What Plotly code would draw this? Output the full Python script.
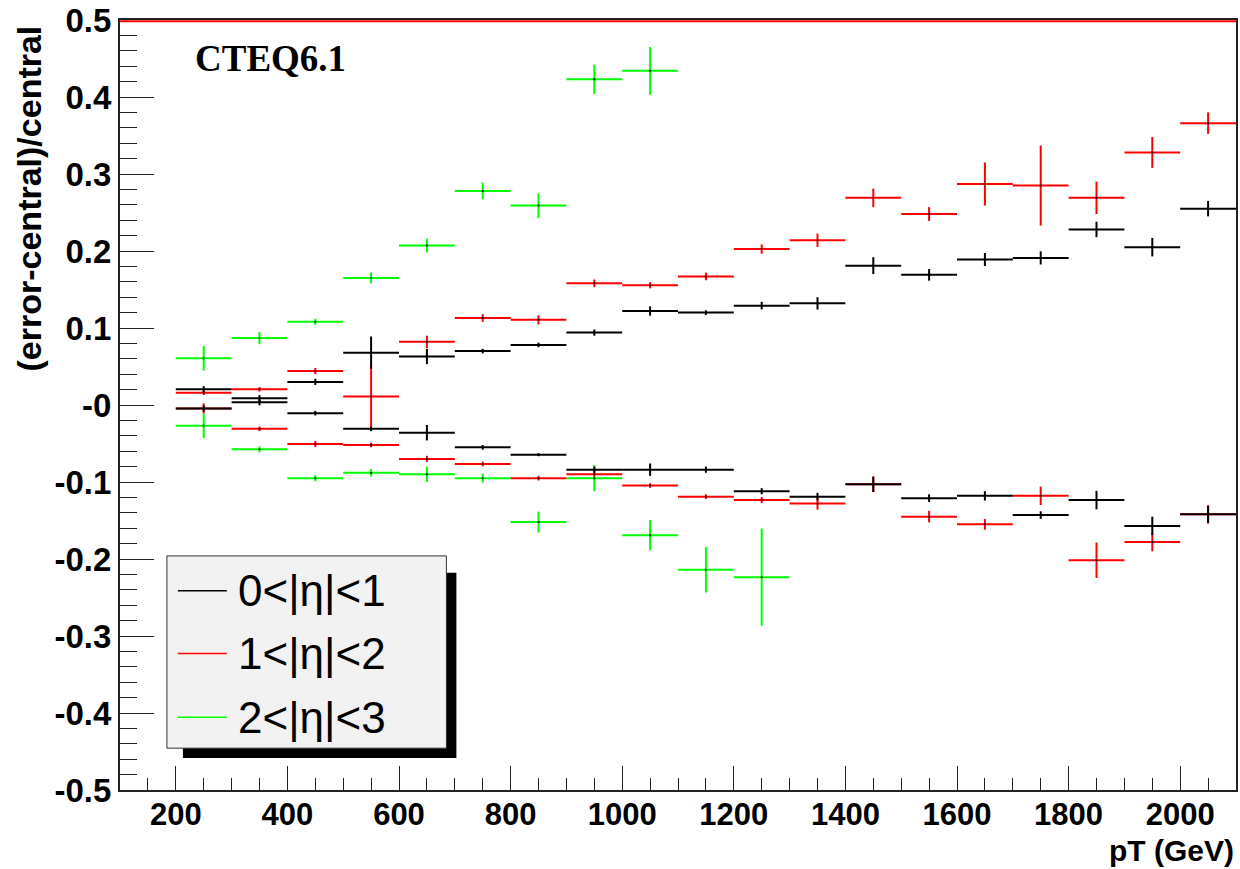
import plotly.graph_objects as go

# ---------------- data ----------------
pt_centers = [250, 350, 450, 550, 650, 750, 850, 950, 1050, 1150,
              1250, 1350, 1450, 1550, 1650, 1750, 1850, 1950, 2050]
bin_half_width = 50

black_up = [0.0205, 0.0088, 0.030, 0.068, 0.063, 0.070, 0.078, 0.094, 0.122, 0.120,
            0.129, 0.132, 0.181, 0.169, 0.189, 0.191, 0.228, 0.205, 0.255]
black_up_err = [0.004, 0.004, 0.004, 0.021, 0.010, 0.003, 0.003, 0.004, 0.006, 0.003,
                0.005, 0.008, 0.011, 0.0075, 0.0085, 0.0085, 0.010, 0.012, 0.010]
black_dn = [-0.0045, 0.0036, -0.0106, -0.031, -0.036, -0.055, -0.0645, -0.084, -0.084, -0.084,
            -0.112, -0.119, -0.103, -0.121, -0.118, -0.143, -0.1235, -0.157, -0.142]
black_dn_err = [0.004, 0.004, 0.003, 0.003, 0.010, 0.003, 0.002, 0.004, 0.008, 0.004,
                0.004, 0.005, 0.010, 0.005, 0.006, 0.005, 0.012, 0.012, 0.011]

red_up = [0.016, 0.0205, 0.044, 0.011, 0.082, 0.113, 0.1106, 0.158, 0.1555, 0.167,
          0.2025, 0.214, 0.269, 0.248, 0.287, 0.285, 0.269, 0.328, 0.366]
red_up_err = [0.003, 0.003, 0.004, 0.041, 0.008, 0.005, 0.006, 0.005, 0.004, 0.005,
              0.006, 0.0087, 0.012, 0.009, 0.028, 0.052, 0.021, 0.020, 0.014]
red_dn = [-0.0045, -0.031, -0.0507, -0.052, -0.070, -0.0766, -0.095, -0.090, -0.1046, -0.119,
          -0.1235, -0.128, -0.103, -0.145, -0.155, -0.118, -0.2016, -0.178, -0.142]
red_dn_err = [0.0065, 0.003, 0.004, 0.003, 0.004, 0.003, 0.003, 0.003, 0.003, 0.003,
              0.004, 0.008, 0.010, 0.0075, 0.007, 0.012, 0.023, 0.012, 0.012]

green_up_pt = [250, 350, 450, 550, 650, 750, 850, 950, 1050]
green_up = [0.0606, 0.087, 0.108, 0.165, 0.207, 0.278, 0.259, 0.423, 0.434]
green_up_err = [0.016, 0.008, 0.004, 0.007, 0.009, 0.011, 0.016, 0.019, 0.031]
green_dn_pt = [250, 350, 450, 550, 650, 750, 850, 950, 1050, 1150, 1250]
green_dn = [-0.027, -0.0576, -0.095, -0.088, -0.090, -0.095, -0.152, -0.095, -0.169, -0.214, -0.2236]
green_dn_err = [0.016, 0.004, 0.004, 0.005, 0.010, 0.006, 0.0136, 0.017, 0.0196, 0.0295, 0.063]

y_tick_vals = [0.5, 0.4, 0.3, 0.2, 0.1, 0.0, -0.1, -0.2, -0.3, -0.4, -0.5]
y_tick_text = ["0.5", "0.4", "0.3", "0.2", "0.1", "-0", "-0.1", "-0.2", "-0.3", "-0.4", "-0.5"]
x_tick_vals = [200, 400, 600, 800, 1000, 1200, 1400, 1600, 1800, 2000]

legend_labels = ["0<|η|<1", "1<|η|<2", "2<|η|<3"]
colors = ["#000000", "#ff0000", "#00ff00"]

# ---------------- figure ----------------
W, H = 1240, 869
ML, MR, MT, MB = 120, 2, 17, 79
PW, PH = W - ML - MR, H - MT - MB


def px2paper(px, py):
    return (px - ML) / PW, (H - MB - py) / PH


fig = go.Figure()


def add_series(x, y, err, color):
    fig.add_trace(go.Scatter(
        x=x, y=y, mode="markers",
        marker=dict(size=2, color="#000000"),
        error_x=dict(type="constant", value=bin_half_width, color=color, thickness=2, width=0),
        error_y=dict(type="data", array=err, visible=True, color=color, thickness=2, width=0),
        showlegend=False, hoverinfo="skip",
    ))


add_series(green_up_pt, green_up, green_up_err, colors[2])
add_series(green_dn_pt, green_dn, green_dn_err, colors[2])
add_series(pt_centers, red_up, red_up_err, colors[1])
add_series(pt_centers, red_dn, red_dn_err, colors[1])
add_series(pt_centers, black_up, black_up_err, colors[0])
add_series(pt_centers, black_dn, black_dn_err, colors[0])

shapes = []
# red line just below the top frame
shapes.append(dict(type="line", xref="x", yref="y", x0=100, x1=2100, y0=0.4984, y1=0.4984,
                   line=dict(color="#ff0000", width=2), layer="above"))

# legend: shadow, box, sample lines
sx0, sy0 = px2paper(183, 758)
sx1, sy1 = px2paper(457, 572)
shapes.append(dict(type="rect", xref="paper", yref="paper", x0=sx0, x1=sx1, y0=sy0, y1=sy1,
                   fillcolor="#000000", line=dict(width=0), layer="above"))
bx0, by0 = px2paper(167, 748)
bx1, by1 = px2paper(447, 555)
shapes.append(dict(type="rect", xref="paper", yref="paper", x0=bx0, x1=bx1, y0=by0, y1=by1,
                   fillcolor="#f2f2f2", line=dict(color="#333333", width=1), layer="above"))

annotations = []
row_y = [590, 653, 717]
for lab, col, ry in zip(legend_labels, colors, row_y):
    lx0, ly = px2paper(178, ry)
    lx1, _ = px2paper(227, ry)
    shapes.append(dict(type="line", xref="paper", yref="paper", x0=lx0, x1=lx1, y0=ly, y1=ly,
                       line=dict(color=col, width=1.5), layer="above"))
    tx, _ = px2paper(236, ry)
    annotations.append(dict(xref="paper", yref="paper", x=tx, y=ly, text=lab, showarrow=False,
                            xanchor="left", yanchor="middle",
                            font=dict(family="Liberation Sans", size=44, color="#000000")))

# CTEQ6.1 label
cx, cy = px2paper(193, 56)
annotations.append(dict(xref="paper", yref="paper", x=cx, y=cy, text="CTEQ6.1", showarrow=False,
                        xanchor="left", yanchor="middle",
                        font=dict(family="Liberation Serif", size=37, color="#000000", weight="bold")))

# y-axis title
tx, ty = px2paper(29, 196)
annotations.append(dict(xref="paper", yref="paper", x=tx, y=ty, text="(error-central)/central",
                        showarrow=False, textangle=-90, xanchor="center", yanchor="middle",
                        font=dict(family="Liberation Sans", size=34, color="#000000", weight="bold")))
# x-axis title
tx, ty = px2paper(1238, 851)
annotations.append(dict(xref="paper", yref="paper", x=tx, y=ty, text="pT (GeV)",
                        showarrow=False, xanchor="right", yanchor="middle",
                        font=dict(family="Liberation Sans", size=30, color="#000000", weight="bold")))

y_tick_font = dict(family="Liberation Sans", size=33, color="#000000", weight="bold")
x_tick_font = dict(family="Liberation Sans", size=31, color="#000000", weight="bold")

fig.update_layout(
    width=W, height=H,
    margin=dict(l=ML, r=MR, t=MT, b=MB, pad=0),
    paper_bgcolor="#ffffff", plot_bgcolor="#ffffff",
    shapes=shapes, annotations=annotations,
    xaxis=dict(range=[100, 2100], showgrid=False, zeroline=False,
               showline=True, mirror=True, linecolor="#222222", linewidth=2,
               ticks="inside", ticklen=24, tickwidth=1, tickcolor="#222222",
               tickvals=x_tick_vals, tickfont=x_tick_font, ticklabeloverflow="allow",
               ticklabelstandoff=-4,
               minor=dict(dtick=50, tick0=0, ticks="inside", ticklen=12, tickwidth=1, tickcolor="#222222"),
               ),
    yaxis=dict(range=[-0.5, 0.5], showgrid=False, zeroline=False,
               showline=True, mirror=True, linecolor="#222222", linewidth=2,
               ticks="inside", ticklen=34, tickwidth=1, tickcolor="#222222",
               tickvals=y_tick_vals, ticktext=y_tick_text, tickfont=y_tick_font,
               ticklabeloverflow="allow",
               minor=dict(dtick=0.02, tick0=0, ticks="inside", ticklen=17, tickwidth=1, tickcolor="#222222"),
               ),
)

fig.write_html("out.html", config={"displayModeBar": False},
               post_script="document.body.style.margin='0';")
